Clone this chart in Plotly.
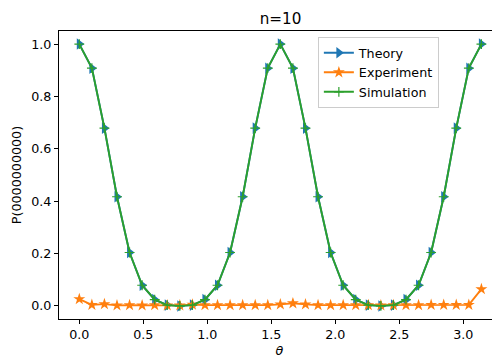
import plotly.graph_objects as go

theta = [0.0, 0.0982, 0.1963, 0.2945, 0.3927, 0.4909, 0.5890, 0.6872, 0.7854,
         0.8836, 0.9817, 1.0799, 1.1781, 1.2763, 1.3744, 1.4726, 1.5708,
         1.6690, 1.7671, 1.8653, 1.9635, 2.0617, 2.1598, 2.2580, 2.3562,
         2.4544, 2.5525, 2.6507, 2.7489, 2.8471, 2.9452, 3.0434, 3.1416]

theory = [1.0, 0.908, 0.679, 0.417, 0.204, 0.079, 0.024, 0.003, 0.0,
          0.003, 0.024, 0.079, 0.204, 0.417, 0.679, 0.908, 1.0,
          0.908, 0.679, 0.417, 0.204, 0.079, 0.024, 0.003, 0.0,
          0.003, 0.024, 0.079, 0.204, 0.417, 0.679, 0.908, 1.0]

experiment = [0.026, 0.004, 0.007, 0.002, 0.003, 0.002, 0.003, 0.002, 0.002,
              0.005, 0.003, 0.003, 0.003, 0.003, 0.003, 0.003, 0.006,
              0.010, 0.006, 0.003, 0.003, 0.003, 0.003, 0.003, 0.002,
              0.003, 0.003, 0.003, 0.004, 0.004, 0.004, 0.004, 0.064]

simulation = [1.0, 0.908, 0.679, 0.417, 0.204, 0.079, 0.024, 0.003, 0.0,
              0.003, 0.024, 0.079, 0.204, 0.417, 0.679, 0.908, 1.0,
              0.908, 0.679, 0.417, 0.204, 0.079, 0.024, 0.003, 0.0,
              0.003, 0.024, 0.079, 0.204, 0.417, 0.679, 0.908, 1.0]

x_ticks = [0.0, 0.5, 1.0, 1.5, 2.0, 2.5, 3.0]
y_ticks = [0.0, 0.2, 0.4, 0.6, 0.8, 1.0]

FONT = "DejaVu Sans"
fs = 12.7

fig = go.Figure()
fig.add_trace(go.Scatter(
    x=theta, y=theory, name="Theory", mode="lines+markers",
    line=dict(color="#1f77b4", width=1.9),
    marker=dict(symbol="triangle-right", size=10, color="#1f77b4")))
fig.add_trace(go.Scatter(
    x=theta, y=experiment, name="Experiment", mode="lines+markers",
    line=dict(color="#ff7f0e", width=1.9),
    marker=dict(symbol="star", size=9, color="#ff7f0e")))
fig.add_trace(go.Scatter(
    x=theta, y=simulation, name="Simulation", mode="lines+markers",
    line=dict(color="#2ca02c", width=1.9),
    marker=dict(symbol="cross-thin", size=7, color="#2ca02c",
                line=dict(color="#2ca02c", width=1.2))))

# page body has an 8px margin; compensate so the figure lands where intended
fig.update_layout(
    width=500, height=359,
    margin=dict(l=51, r=8, t=23, b=48, autoexpand=False),
    paper_bgcolor="white", plot_bgcolor="white",
    font=dict(family=FONT, size=fs, color="black"),
    title=dict(text="n=10", x=(280.5 - 8) / 500, xanchor="center", y=1 - 11 / 359,
               yanchor="middle", font=dict(family=FONT, size=15.2, color="black")),
    showlegend=True,
    legend=dict(x=0.587, y=0.979, xanchor="left", yanchor="top",
                bgcolor="rgba(255,255,255,0.8)", bordercolor="#cccccc",
                borderwidth=1, font=dict(family=FONT, size=fs, color="black"),
                tracegroupgap=0, itemwidth=30),
    xaxis=dict(range=[-0.1586, 3.287], tickvals=x_ticks,
               ticktext=[f"{v:.1f}" for v in x_ticks], automargin=False,
               showline=True, mirror=True, linecolor="black", linewidth=1,
               ticks="outside", ticklen=4, tickwidth=1, tickcolor="black",
               showgrid=False, zeroline=False,
               title=dict(text="<i>θ</i>", standoff=4,
                          font=dict(family=FONT, size=fs, color="black"))),
    yaxis=dict(range=[-0.05, 1.05], tickvals=y_ticks,
               ticktext=[f"{v:.1f}" for v in y_ticks], automargin=False,
               showline=True, mirror=False, linecolor="black", linewidth=1,
               ticks="outside", ticklen=4, tickwidth=1, tickcolor="black",
               showgrid=False, zeroline=False,
               title=dict(text="P(0000000000)", standoff=6,
                          font=dict(family=FONT, size=fs, color="black"))),
)

fig.write_html("out.html")
